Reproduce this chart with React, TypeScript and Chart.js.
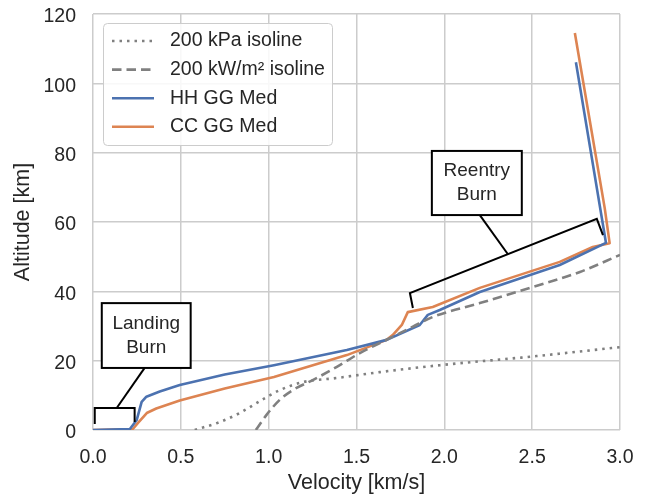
import React, { useEffect, useRef } from "react";
import { Chart, registerables } from "chart.js";

Chart.register(...registerables);

// ---- data (velocity in km/s, altitude in km) ----
const paIsoVel = [0.579, 0.722, 0.835, 0.989, 1.063, 1.194, 1.388, 1.633, 1.975, 2.5, 3.0];
const paIsoAlt = [0, 2.3, 4.9, 9.5, 11.5, 13.8, 15.0, 16.7, 18.7, 21.2, 23.9];

const kwIsoVel = [0.927, 0.99, 1.063, 1.137, 1.251, 1.388, 1.519, 1.633, 1.75, 1.821, 1.934, 2.202, 2.487, 2.772, 3.0];
const kwIsoAlt = [0, 4.5, 8.7, 11.5, 14.4, 18.2, 22.2, 25.1, 28.0, 29.8, 32.6, 36.6, 41.0, 45.6, 50.5];

const hhVel = [0, 0.21, 0.249, 0.277, 0.304, 0.38, 0.494, 0.75, 1.03, 1.445, 1.672, 1.86, 1.906, 1.974, 2.202, 2.657, 2.92, 2.749];
const hhAlt = [0, 0.3, 2.9, 8.1, 9.6, 11.1, 13.0, 16.0, 18.7, 23.1, 26.0, 30.3, 33.2, 34.6, 39.8, 47.6, 54.0, 106.1];

const ccVel = [0, 0.227, 0.255, 0.306, 0.36, 0.494, 0.75, 1.03, 1.445, 1.672, 1.706, 1.758, 1.792, 1.934, 2.202, 2.657, 2.845, 2.941, 2.913, 2.743];
const ccAlt = [0, 0.3, 2.0, 4.9, 6.2, 8.5, 12.0, 15.3, 21.6, 26.0, 27.4, 30.3, 34.0, 35.5, 41.0, 48.5, 52.8, 53.9, 64.0, 114.5];

const seriesNames = ["200 kPa isoline", "200 kW/m² isoline", "HH GG Med", "CC GG Med"];
const xTicks = [0, 0.5, 1, 1.5, 2, 2.5, 3];
const yTicks = [0, 20, 40, 60, 80, 100, 120];

// annotations (data units)
const landingText = ["Landing", "Burn"];
const landingBox = [0.05, 0.556, 17.9, 36.6];
const landingLeader = [[0.135, 6.35], [0.294, 17.9]];
const landingBracket = [[0.01, 1.7], [0.01, 6.35], [0.237, 6.35], [0.237, 2.3]];

const reentryText = ["Reentry", "Burn"];
const reentryBox = [1.929, 2.441, 62.0, 80.5];
const reentryLeader = [[2.362, 50.7], [2.202, 62.0]];
const reentryBracket = [[1.821, 35.2], [1.804, 39.5], [2.868, 60.9], [2.903, 56.2]];

const FONT = "'Liberation Sans', Arial, sans-serif";
const TEXT = "#262626";
const GRID = "#cccccc";
const BLUE = "#4C72B0";
const ORANGE = "#DD8452";
const GRAY = "#808080";

const zip = (xs: number[], ys: number[]) => xs.map((v, i) => ({ x: v, y: ys[i] }));

const styles = [
  { color: GRAY, dash: [2.5, 5] },
  { color: GRAY, dash: [9.5, 5] },
  { color: BLUE, dash: [] as number[] },
  { color: ORANGE, dash: [] as number[] },
];

const overlayPlugin = {
  id: "overlay",
  afterDatasetsDraw(chart: any) {
    const { ctx, chartArea } = chart;
    const xs = chart.scales.x;
    const ys = chart.scales.y;
    const px = (v: number) => xs.getPixelForValue(v);
    const py = (a: number) => ys.getPixelForValue(a);
    ctx.save();

    const drawAnn = (bracket: number[][], leader: number[][], box: number[], text: string[]) => {
      ctx.strokeStyle = "#000";
      ctx.lineWidth = 2;
      ctx.lineJoin = "miter";
      ctx.setLineDash([]);
      ctx.beginPath();
      bracket.forEach(([v, a], i) => (i ? ctx.lineTo(px(v), py(a)) : ctx.moveTo(px(v), py(a))));
      ctx.stroke();
      ctx.beginPath();
      ctx.moveTo(px(leader[0][0]), py(leader[0][1]));
      ctx.lineTo(px(leader[1][0]), py(leader[1][1]));
      ctx.stroke();
      const x0 = px(box[0]);
      const x1 = px(box[1]);
      const y0 = py(box[3]);
      const y1 = py(box[2]);
      ctx.fillStyle = "#fff";
      ctx.fillRect(x0, y0, x1 - x0, y1 - y0);
      ctx.strokeRect(x0, y0, x1 - x0, y1 - y0);
      ctx.fillStyle = TEXT;
      ctx.font = `19px ${FONT}`;
      ctx.textAlign = "center";
      ctx.textBaseline = "middle";
      const cx = (x0 + x1) / 2;
      const cy = (y0 + y1) / 2;
      ctx.fillText(text[0], cx, cy - 12);
      ctx.fillText(text[1], cx, cy + 12);
    };
    drawAnn(landingBracket, landingLeader, landingBox, landingText);
    drawAnn(reentryBracket, reentryLeader, reentryBox, reentryText);

    // legend
    const lx = chartArea.left + 10;
    const ly = chartArea.top + 9;
    const lw = 229;
    const lh = 122;
    ctx.beginPath();
    if (ctx.roundRect) ctx.roundRect(lx + 0.5, ly + 0.5, lw, lh, 4);
    else ctx.rect(lx + 0.5, ly + 0.5, lw, lh);
    ctx.fillStyle = "rgba(255,255,255,0.85)";
    ctx.fill();
    ctx.strokeStyle = GRID;
    ctx.lineWidth = 1;
    ctx.stroke();
    seriesNames.forEach((name, i) => {
      const rowY = ly + 18 + i * 28.6;
      ctx.strokeStyle = styles[i].color;
      ctx.lineWidth = 2.6;
      ctx.lineCap = "butt";
      ctx.setLineDash(styles[i].dash);
      ctx.beginPath();
      ctx.moveTo(lx + 9, rowY);
      ctx.lineTo(lx + 51, rowY);
      ctx.stroke();
      ctx.setLineDash([]);
      ctx.fillStyle = TEXT;
      ctx.font = `19.5px ${FONT}`;
      ctx.textAlign = "left";
      ctx.textBaseline = "middle";
      ctx.fillText(name, lx + 67, rowY);
    });
    ctx.restore();
  },
};

export default function App() {
  const ref = useRef<HTMLCanvasElement | null>(null);
  useEffect(() => {
    document.body.style.margin = "0";
    const canvas = ref.current;
    if (!canvas) return;
    const datasets = [
      { data: zip(paIsoVel, paIsoAlt), cubicInterpolationMode: "monotone", tension: 0.4 },
      { data: zip(kwIsoVel, kwIsoAlt), cubicInterpolationMode: "monotone", tension: 0.4 },
      { data: zip(hhVel, hhAlt), tension: 0 },
      { data: zip(ccVel, ccAlt), tension: 0 },
    ].map((d, i) => ({
      ...d,
      label: seriesNames[i],
      showLine: true,
      borderColor: styles[i].color,
      backgroundColor: styles[i].color,
      borderDash: styles[i].dash,
      borderWidth: 2.6,
      pointRadius: 0,
      fill: false,
      borderJoinStyle: "round",
    }));
    const chart = new Chart(canvas, {
      type: "scatter",
      data: { datasets: datasets as any },
      options: {
        animation: false,
        responsive: false,
        events: [],
        layout: { padding: { left: 0, right: 26, top: 14, bottom: 0 } },
        plugins: { legend: { display: false }, tooltip: { enabled: false } },
        scales: {
          x: {
            type: "linear",
            min: 0,
            max: 3,
            afterBuildTicks: (s: any) => {
              s.ticks = xTicks.map((v) => ({ value: v }));
            },
            afterFit: (s: any) => {
              s.height = 68;
              s.paddingLeft = 0;
              s.paddingRight = 0;
            },
            ticks: {
              callback: (v: any) => Number(v).toFixed(1),
              font: { family: FONT, size: 19.5 },
              color: TEXT,
              padding: 16,
              maxRotation: 0,
            },
            grid: { color: GRID, lineWidth: 1.5, drawTicks: false },
            border: { display: false },
            title: {
              display: true,
              text: "Velocity [km/s]",
              font: { family: FONT, size: 21.5 },
              color: TEXT,
              padding: { top: 0, bottom: 2 },
            },
          },
          y: {
            type: "linear",
            min: 0,
            max: 120,
            afterBuildTicks: (s: any) => {
              s.ticks = yTicks.map((v) => ({ value: v }));
            },
            afterFit: (s: any) => {
              s.width = 93;
              s.paddingTop = 0;
              s.paddingBottom = 0;
            },
            ticks: {
              font: { family: FONT, size: 19.5 },
              color: TEXT,
              padding: 17,
              labelOffset: 3,
            },
            grid: { color: GRID, lineWidth: 1.5, drawTicks: false },
            border: { display: false },
            title: {
              display: true,
              text: "Altitude [km]",
              font: { family: FONT, size: 21.5 },
              color: TEXT,
              padding: { top: 10, bottom: 0 },
            },
          },
        },
      },
      plugins: [overlayPlugin],
    });
    return () => chart.destroy();
  }, []);
  return <canvas ref={ref} width={646} height={498} style={{ display: "block" }} />;
}
